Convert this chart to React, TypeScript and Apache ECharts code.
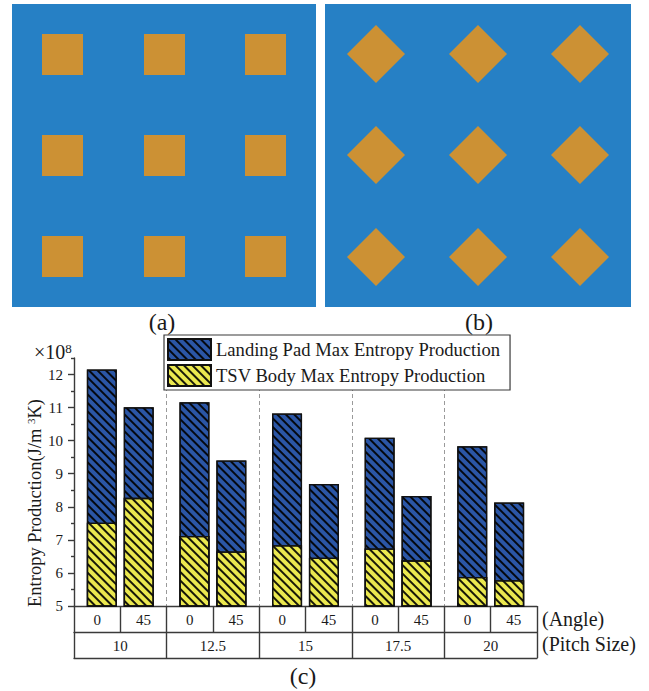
import React, { useEffect, useRef } from 'react';
import * as echarts from 'echarts';

// ---------- data ----------
const pitchSizes = ['10', '12.5', '15', '17.5', '20'];
const angles = ['0', '45'];
const landingPad0 = [12.15, 11.16, 10.82, 10.09, 9.83];
const landingPad45 = [11.01, 9.4, 8.69, 8.33, 8.13];
const tsvBody0 = [7.52, 7.12, 6.84, 6.74, 5.88];
const tsvBody45 = [8.27, 6.65, 6.46, 6.38, 5.78];
const yMajorTicks = [5, 6, 7, 8, 9, 10, 11, 12];
const yMinorTicks = [5.5, 6.5, 7.5, 8.5, 9.5, 10.5, 11.5, 12.5];
const seriesNames = ['Landing Pad Max Entropy Production', 'TSV Body Max Entropy Production'];
const rowNames = ['(Angle)', '(Pitch Size)'];
const panelLabels = ['(a)', '(b)', '(c)'];

// ---------- styles ----------
const FONT = '"Liberation Serif", "Times New Roman", serif';
const TEXT = '#1a1a1a';
const LINE = '#3a3a3a';
const BLUE = '#2b56a6';
const YELLOW = '#ebe84f';
const PANEL_BLUE = '#2680c5';
const PAD_ORANGE = '#cc9134';

const angleCells = pitchSizes.flatMap((p) => angles.map((a) => p + '|' + a));

const hatch = {
  symbol: 'rect',
  symbolSize: 1,
  color: 'rgba(0,0,0,0.9)',
  dashArrayX: [1, 0],
  dashArrayY: [1.1, 3.9],
  rotation: Math.PI / 4,
};

function panelGraphics() {
  const els: any[] = [];
  // panel (a): square pads
  els.push({ type: 'rect', shape: { x: 12, y: 4, width: 304, height: 303 }, style: { fill: PANEL_BLUE } });
  const sqX = [42, 144, 245];
  const sqY = [34, 135, 236];
  sqY.forEach((y) => sqX.forEach((x) => {
    els.push({ type: 'rect', shape: { x, y, width: 41, height: 41 }, style: { fill: PAD_ORANGE } });
  }));
  // panel (b): rotated pads
  els.push({ type: 'rect', shape: { x: 325, y: 4, width: 306, height: 303 }, style: { fill: PANEL_BLUE } });
  const dX = [376, 478, 580];
  const dY = [54, 155, 257];
  const h = 29;
  dY.forEach((cy) => dX.forEach((cx) => {
    els.push({
      type: 'polygon',
      shape: { points: [[cx, cy - h], [cx + h, cy], [cx, cy + h], [cx - h, cy]] },
      style: { fill: PAD_ORANGE },
    });
  }));
  const lblStyle = { fontFamily: FONT, fontSize: 24, fill: TEXT, align: 'center', verticalAlign: 'middle' };
  els.push({ type: 'text', x: 162, y: 322, style: { ...lblStyle, text: panelLabels[0] } });
  els.push({ type: 'text', x: 479, y: 322, style: { ...lblStyle, text: panelLabels[1] } });
  els.push({ type: 'text', x: 303, y: 676, style: { ...lblStyle, text: panelLabels[2] } });
  // row names of the table
  els.push({ type: 'text', x: 542, y: 619, style: { fontFamily: FONT, fontSize: 20, fill: TEXT, align: 'left', verticalAlign: 'middle', text: rowNames[0] } });
  els.push({ type: 'text', x: 542, y: 644, style: { fontFamily: FONT, fontSize: 20, fill: TEXT, align: 'left', verticalAlign: 'middle', text: rowNames[1] } });
  // multiplier
  els.push({
    type: 'text', x: 34, y: 352,
    style: {
      text: '×10{sup|8}', fontFamily: FONT, fontSize: 20, fill: TEXT, align: 'left', verticalAlign: 'middle',
      rich: { sup: { fontFamily: FONT, fontSize: 13, fill: TEXT, verticalAlign: 'top' } },
    },
  });
  return els;
}

export default function App() {
  const ref = useRef<HTMLDivElement>(null);
  useEffect(() => {
    if (!ref.current) return;
    const chart = echarts.init(ref.current, null, { renderer: 'svg' });
    const grid = { left: 74, right: 112, top: 358, bottom: 85, outerBoundsMode: 'none', containLabel: false };
    const lineStyle = { color: LINE, width: 1.4 };
    const barBase = { type: 'bar', barWidth: 30, barGap: '23%', yAxisIndex: 0 };
    const option: any = {
      animation: false,
      backgroundColor: '#fff',
      grid: [grid, { ...grid, top: 387 }],
      legend: {
        data: seriesNames,
        orient: 'vertical',
        left: 164,
        top: 335,
        padding: [3, 10, 3, 3],
        itemGap: 3,
        itemWidth: 43,
        itemHeight: 21,
        icon: 'rect',
        borderColor: LINE,
        borderWidth: 1.2,
        backgroundColor: '#fff',
        textStyle: { fontFamily: FONT, fontSize: 18.6, color: TEXT },
        selectedMode: false,
      },
      xAxis: [
        { // bars: landing pad; also the table top line
          type: 'category', data: pitchSizes, gridIndex: 0, position: 'bottom',
          axisLine: { show: true, onZero: false, lineStyle },
          axisTick: { show: false }, axisLabel: { show: false }, splitLine: { show: false },
        },
        { // bars: TSV body (overlaid)
          type: 'category', data: pitchSizes, gridIndex: 0, position: 'bottom',
          axisLine: { show: false, onZero: false }, axisTick: { show: false }, axisLabel: { show: false },
        },
        { // table row: angle
          type: 'category', data: angleCells, gridIndex: 0, position: 'bottom', offset: 0,
          axisLine: { show: false, onZero: false },
          axisTick: { show: true, interval: 0, length: 26, lineStyle },
          axisLabel: {
            show: true, interval: 0, margin: 6, fontFamily: FONT, fontSize: 15, color: TEXT,
            formatter: (v: string) => v.split('|')[1],
          },
        },
        { // table row: pitch size
          type: 'category', data: pitchSizes, gridIndex: 0, position: 'bottom', offset: 26,
          axisLine: { show: true, onZero: false, lineStyle },
          axisTick: { show: true, interval: 0, length: 26, lineStyle },
          axisLabel: { show: true, interval: 0, margin: 6, fontFamily: FONT, fontSize: 15, color: TEXT },
        },
        { // table bottom line
          type: 'category', data: pitchSizes, gridIndex: 0, position: 'bottom', offset: 52,
          axisLine: { show: true, onZero: false, lineStyle },
          axisTick: { show: false }, axisLabel: { show: false },
        },
        { // dashed group separators
          type: 'category', data: pitchSizes, gridIndex: 1, position: 'bottom',
          axisLine: { show: false, onZero: false }, axisTick: { show: false }, axisLabel: { show: false },
          splitLine: {
            show: true, interval: 0, showMinLine: false, showMaxLine: false,
            lineStyle: { color: '#9a9a9a', width: 1, type: [4, 3] },
          },
        },
      ],
      yAxis: [
        {
          type: 'value', gridIndex: 0, position: 'left', min: 5, max: 12.5, interval: 1,
          axisLine: { show: true, onZero: false, lineStyle },
          axisTick: { show: true, length: 6, customValues: yMajorTicks, lineStyle },
          axisLabel: { show: true, customValues: yMajorTicks, margin: 11, fontFamily: FONT, fontSize: 15, color: TEXT },
          splitLine: { show: false },
          name: 'Entropy Production(J/m {sup|3}K)',
          nameLocation: 'middle',
          nameGap: 30,
          nameMoveOverlap: false,
          nameTextStyle: {
            fontFamily: FONT, fontSize: 18.5, color: TEXT, padding: [0, 42, 0, 0],
            rich: { sup: { fontFamily: FONT, fontSize: 11, color: TEXT, verticalAlign: 'top' } },
          },
        },
        {
          type: 'value', gridIndex: 0, position: 'left', min: 5, max: 12.5, interval: 0.5,
          axisLine: { show: false, onZero: false },
          axisTick: { show: true, length: 3, customValues: yMinorTicks, lineStyle },
          axisLabel: { show: false }, splitLine: { show: false },
        },
        {
          type: 'value', gridIndex: 1, show: false, splitLine: { show: false },
        },
      ],
      series: [
        { ...barBase, name: seriesNames[0], xAxisIndex: 0, data: landingPad0, z: 2,
          itemStyle: { color: BLUE, borderColor: '#111', borderWidth: 1.3, decal: hatch } },
        { ...barBase, name: seriesNames[0], xAxisIndex: 0, data: landingPad45, z: 2,
          itemStyle: { color: BLUE, borderColor: '#111', borderWidth: 1.3, decal: hatch } },
        { ...barBase, name: seriesNames[1], xAxisIndex: 1, data: tsvBody0, z: 3,
          itemStyle: { color: YELLOW, borderColor: '#111', borderWidth: 1.3, decal: hatch } },
        { ...barBase, name: seriesNames[1], xAxisIndex: 1, data: tsvBody45, z: 3,
          itemStyle: { color: YELLOW, borderColor: '#111', borderWidth: 1.3, decal: hatch } },
      ],
      graphic: panelGraphics(),
    };
    chart.setOption(option);
    return () => chart.dispose();
  }, []);
  return (
    <div
      ref={ref}
      style={{ position: 'fixed', left: 0, top: 0, width: 649, height: 691, background: '#fff' }}
    />
  );
}
